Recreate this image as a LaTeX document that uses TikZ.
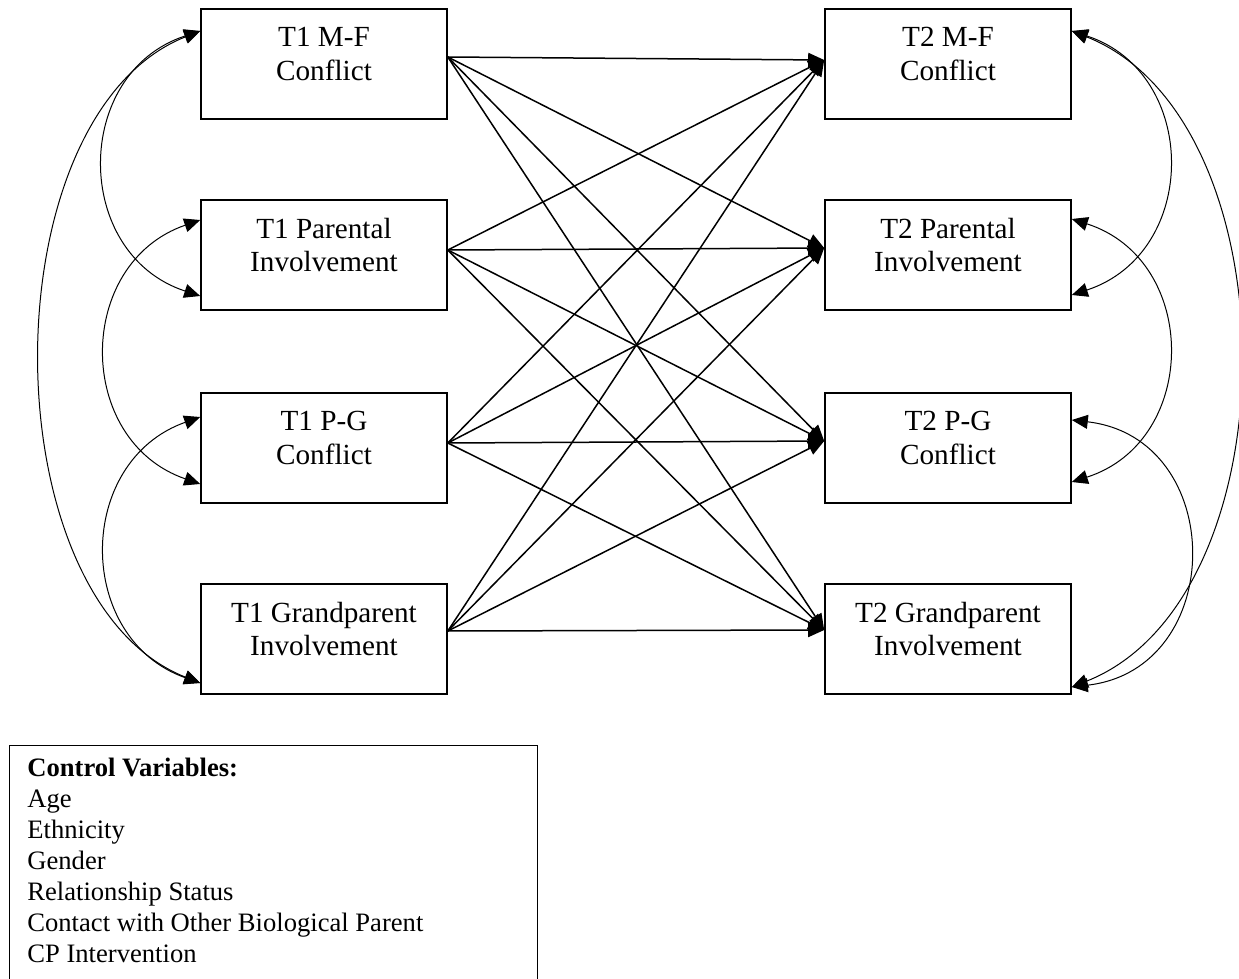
\documentclass[tikz,border=0pt]{standalone}
\usepackage{fontspec}
\setmainfont{Liberation Serif}
\usetikzlibrary{arrows.meta}
\begin{document}
\begin{tikzpicture}[x=0.5pt,y=-0.5pt,
  box/.style={draw, line width=0.8pt, minimum width=123pt, minimum height=55pt, inner sep=0pt},
  txt/.style={align=center, font=\fontsize{14.6pt}{16.8pt}\selectfont, inner sep=0pt},
  ctl/.style={align=left, font=\fontsize{13.3pt}{15.5pt}\selectfont, inner sep=0pt},
  tip/.tip={Triangle[length=8pt,width=7pt]},
  pathline/.style={line width=0.75pt, -tip},
  covline/.style={line width=0.5pt, tip-tip}]
\useasboundingbox (0,0) rectangle (1239,979);

% boxes
\node[box] (l1) at (324,64) {};
\node[box] (l2) at (324,255) {};
\node[box] (l3) at (324,448) {};
\node[box] (l4) at (324,639) {};
\node[box] (r1) at (948,64) {};
\node[box] (r2) at (948,255) {};
\node[box] (r3) at (948,448) {};
\node[box] (r4) at (948,639) {};

\node[txt] (l1t) at (324,54) {T1 M-F\\Conflict};
\node[txt] (l2t) at (324,245) {T1 Parental\\Involvement};
\node[txt] (l3t) at (324,438) {T1 P-G\\Conflict};
\node[txt] (l4t) at (324,629) {T1 Grandparent\\Involvement};
\node[txt] (r1t) at (948,54) {T2 M-F\\Conflict};
\node[txt] (r2t) at (948,245) {T2 Parental\\Involvement};
\node[txt] (r3t) at (948,438) {T2 P-G\\Conflict};
\node[txt] (r4t) at (948,629) {T2 Grandparent\\Involvement};

% path anchors
\coordinate (l1o) at ([yshift=3.5pt]l1.east);
\coordinate (l2o) at ([yshift=2.5pt]l2.east);
\coordinate (l3o) at ([yshift=2.5pt]l3.east);
\coordinate (l4o) at ([yshift=4pt]l4.east);
\coordinate (r1i) at ([yshift=2pt]r1.west);
\coordinate (r2i) at ([yshift=3.5pt]r2.west);
\coordinate (r3i) at ([yshift=3.5pt]r3.west);
\coordinate (r4i) at ([yshift=4.5pt]r4.west);

% cross-lagged paths
\foreach \s in {l1o,l2o,l3o,l4o}{
  \foreach \t in {r1i,r2i,r3i,r4i}{
    \draw[pathline] (\s) -- (\t);
  }
}

% covariance anchors left
\coordinate (l1a) at ([yshift=16.5pt]l1.west);
\coordinate (l2a) at ([yshift=17.5pt]l2.west);
\coordinate (l2b) at ([yshift=-20.5pt]l2.west);
\coordinate (l3a) at ([yshift=15.5pt]l3.west);
\coordinate (l3b) at ([yshift=-18pt]l3.west);
\coordinate (l4b) at ([yshift=-22pt]l4.west);
% covariance anchors right
\coordinate (r1a) at ([yshift=16.5pt]r1.east);
\coordinate (r2a) at ([yshift=18pt]r2.east);
\coordinate (r2b) at ([yshift=-20pt]r2.east);
\coordinate (r3a) at ([yshift=14pt]r3.east);
\coordinate (r3b) at ([yshift=-17pt]r3.east);
\coordinate (r4b) at ([yshift=-24pt]r4.east);

% left covariances
\draw[covline] (l1a) .. controls +(-64pt,-21pt) and +(-64pt,21pt) .. (l2b);
\draw[covline] (l2a) .. controls +(-62.7pt,-21.7pt) and +(-62.7pt,21.7pt) .. (l3b);
\draw[covline] (l3a) .. controls +(-62.7pt,-22.2pt) and +(-62.7pt,22.2pt) .. (l4b);
\draw[covline] (l1a) .. controls +(-106pt,-42pt) and +(-106pt,42pt) .. (l4b);

% right covariances
\draw[covline] (r1a) .. controls +(64pt,-21pt) and +(64pt,21pt) .. (r2b);
\draw[covline] (r2a) .. controls +(64pt,-20.5pt) and +(64pt,20.5pt) .. (r3b);
\draw[covline] (r3a) .. controls +(78pt,-9pt) and +(78pt,9pt) .. (r4b);
\draw[covline] (r1a) .. controls +(111.4pt,-44pt) and +(111.4pt,44pt) .. (r4b);

% control variables box
\draw[line width=0.5pt] (9,979) |- (537,745) -- (537,979);
\node[ctl, anchor=north west] (cv) at (27,758) {\textbf{Control Variables:}\\Age\\Ethnicity\\Gender\\Relationship Status\\Contact with Other Biological Parent\\CP Intervention};
\end{tikzpicture}
\end{document}
